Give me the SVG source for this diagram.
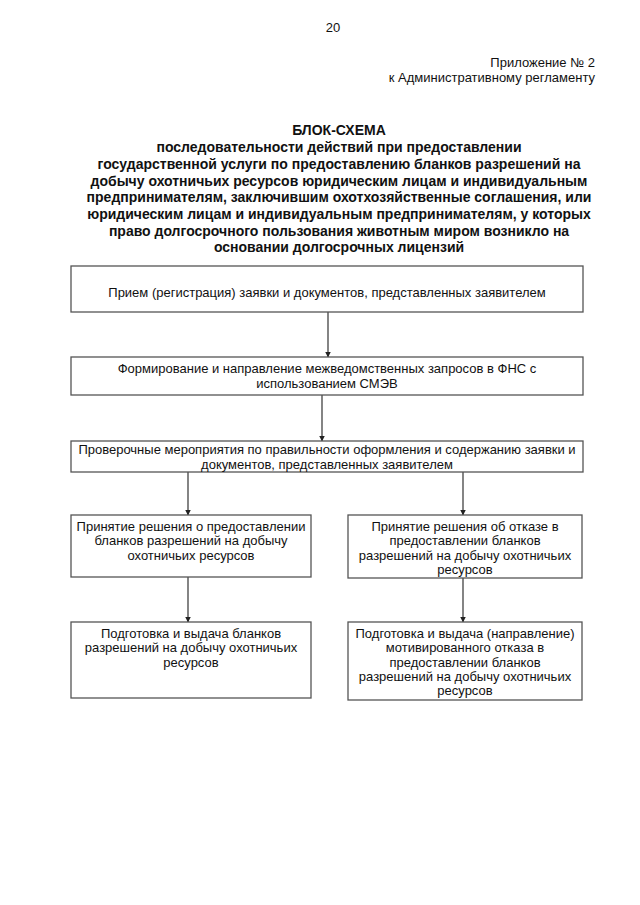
<svg xmlns="http://www.w3.org/2000/svg" width="640" height="905" viewBox="0 0 640 905">
<defs>
<marker id="ah" markerWidth="6" markerHeight="7" refX="5.5" refY="3" orient="auto" markerUnits="userSpaceOnUse">
<path d="M0,0 L6,3 L0,6 Z" fill="#222"/>
</marker>
<style>
.t{font-family:"Liberation Sans",Arial,sans-serif;font-size:13px;fill:#111;text-anchor:middle}
.h{font-family:"Liberation Sans",Arial,sans-serif;font-size:14px;font-weight:bold;fill:#111;text-anchor:middle}
.b{fill:#fff;stroke:#555;stroke-width:1.3}
.c{stroke:#333;stroke-width:1.2;fill:none;marker-end:url(#ah)}
</style>
</defs>
<rect width="640" height="905" fill="#fff"/>
<g id="header">
<text class="t" x="333" y="32">20</text>
<text class="t" x="595" y="67" style="text-anchor:end">Приложение № 2</text>
<text class="t" x="595" y="82" style="text-anchor:end">к Административному регламенту</text>
</g>
<g id="title">
<text class="h" x="339" y="135">БЛОК-СХЕМА</text>
<text class="h" x="339" y="152">последовательности действий при предоставлении</text>
<text class="h" x="339" y="169">государственной услуги по предоставлению бланков разрешений на</text>
<text class="h" x="339" y="186">добычу охотничьих ресурсов юридическим лицам и индивидуальным</text>
<text class="h" x="339" y="202">предпринимателям, заключившим охотхозяйственные соглашения, или</text>
<text class="h" x="339" y="219">юридическим лицам и индивидуальным предпринимателям, у которых</text>
<text class="h" x="339" y="236">право долгосрочного пользования животным миром возникло на</text>
<text class="h" x="339" y="252">основании долгосрочных лицензий</text>
</g>
<g id="connectors">
<line class="c" x1="328" y1="312" x2="328" y2="357"/>
<line class="c" x1="322" y1="395" x2="322" y2="441"/>
<line class="c" x1="188" y1="472" x2="188" y2="515"/>
<line class="c" x1="463" y1="472" x2="463" y2="515"/>
<line class="c" x1="188" y1="577" x2="188" y2="622"/>
<line class="c" x1="463" y1="578" x2="463" y2="622"/>
</g>
<g id="n1">
<rect class="b" x="71" y="266" width="512" height="46"/>
<text class="t" x="327" y="297">Прием (регистрация) заявки и документов, представленных заявителем</text>
</g>
<g id="n2">
<rect class="b" x="71" y="357" width="512" height="38"/>
<text class="t" x="327" y="373">Формирование и направление межведомственных запросов в ФНС с</text>
<text class="t" x="327" y="388">использованием СМЭВ</text>
</g>
<g id="n3">
<rect class="b" x="71" y="441" width="512" height="31"/>
<text class="t" x="327" y="454">Проверочные мероприятия по правильности оформления и содержанию заявки и</text>
<text class="t" x="327" y="469">документов, представленных заявителем</text>
</g>
<g id="n4">
<rect class="b" x="71" y="515" width="240" height="62"/>
<text class="t" x="191" y="531">Принятие решения о предоставлении</text>
<text class="t" x="191" y="545">бланков разрешений на добычу</text>
<text class="t" x="191" y="560">охотничьих ресурсов</text>
</g>
<g id="n5">
<rect class="b" x="348" y="515" width="234" height="63"/>
<text class="t" x="465" y="531">Принятие решения об отказе в</text>
<text class="t" x="465" y="545">предоставлении бланков</text>
<text class="t" x="465" y="560">разрешений на добычу охотничьих</text>
<text class="t" x="465" y="574">ресурсов</text>
</g>
<g id="n6">
<rect class="b" x="71" y="622" width="240" height="76"/>
<text class="t" x="191" y="638">Подготовка и выдача бланков</text>
<text class="t" x="191" y="652">разрешений на добычу охотничьих</text>
<text class="t" x="191" y="667">ресурсов</text>
</g>
<g id="n7">
<rect class="b" x="348" y="622" width="234" height="78"/>
<text class="t" x="465" y="638">Подготовка и выдача (направление)</text>
<text class="t" x="465" y="652">мотивированного отказа в</text>
<text class="t" x="465" y="667">предоставлении бланков</text>
<text class="t" x="465" y="681">разрешений на добычу охотничьих</text>
<text class="t" x="465" y="695">ресурсов</text>
</g>
</svg>
